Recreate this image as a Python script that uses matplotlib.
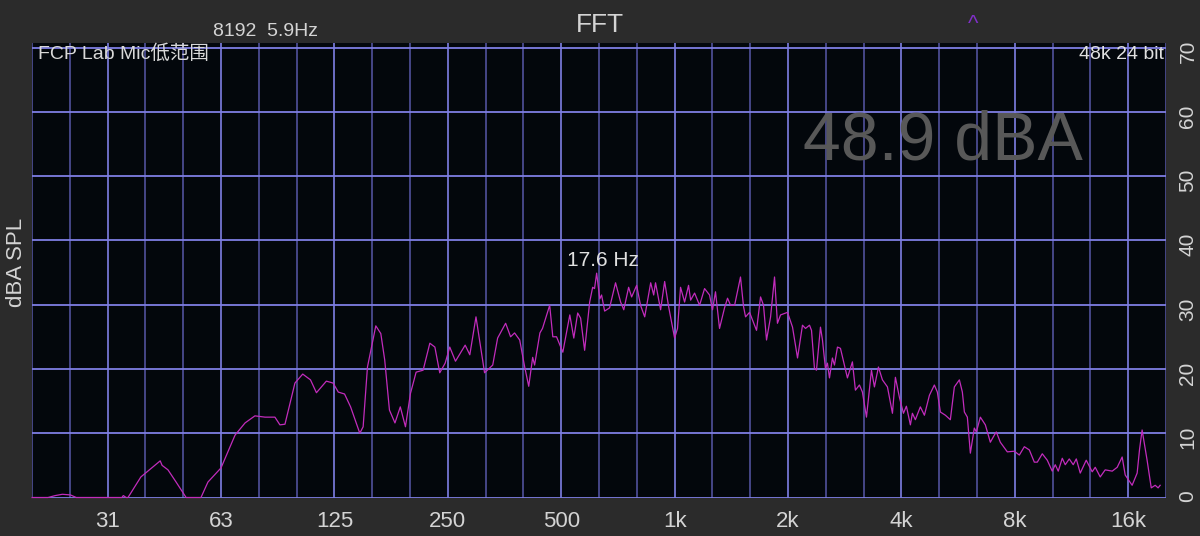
import numpy as np
import matplotlib
matplotlib.use("Agg")
import matplotlib.pyplot as plt
from matplotlib.ticker import FixedLocator, NullFormatter

plt.rcParams['font.family'] = ['Liberation Sans', 'Noto Sans CJK SC', 'DejaVu Sans']

# spectrum (Hz, dBA)
freq = [19.7, 21.7, 22.7, 23.7, 24.9, 25.8, 34.1, 34.4, 35.0, 35.4,
        38.3, 43.1, 43.6, 45.2, 47.5, 50.5, 55.3, 57.7, 62.5, 68.1,
        72.4, 76.9, 81.8, 86.9, 89.6, 92.4, 98.2, 103, 108, 112,
        119, 124, 128, 133, 138, 146, 149, 153, 161, 166,
        170, 175, 181, 187, 193, 199, 206, 215, 224, 231,
        238, 246, 253, 262, 278, 286, 297, 313, 329, 339,
        356, 367, 376, 388, 400, 410, 420, 425, 439, 446,
        466, 475, 486, 505, 527, 540, 553, 563, 577, 595,
        606, 613, 621, 633, 640, 652, 672, 697, 719, 733,
        755, 769, 793, 812, 833, 864, 880, 890, 918, 941,
        964, 1000, 1018, 1037, 1063, 1089, 1103, 1130, 1165, 1201,
        1238, 1261, 1284, 1316, 1357, 1382, 1408, 1443, 1496, 1524,
        1543, 1581, 1610, 1650, 1691, 1722, 1754, 1798, 1842, 1875,
        1911, 1994, 2056, 2120, 2185, 2226, 2281, 2309, 2351, 2380,
        2439, 2469, 2514, 2545, 2577, 2624, 2657, 2706, 2756, 2876,
        2965, 3020, 3095, 3152, 3231, 3331, 3392, 3476, 3562, 3673,
        3787, 3856, 3951, 4050, 4124, 4226, 4278, 4356, 4491, 4604,
        4747, 4893, 4983, 5076, 5233, 5395, 5529, 5701, 5806, 5878,
        5986, 6097, 6246, 6325, 6481, 6682, 6889, 7058, 7146, 7322,
        7642, 7978, 8225, 8480, 8743, 9014, 9180, 9463, 9757, 10057,
        10245, 10433, 10693, 10890, 11160, 11433, 11650, 11935, 12380, 12840,
        13080, 13485, 13900, 14510, 14960, 15420, 15710, 16390, 16900, 17150,
        17420, 17700, 17960, 18420, 18870, 19210, 19450]
level = [0.0, 0.0, 0.3, 0.5, 0.4, 0.0, 0.0, 0.3, 0.0, 0.0,
         3.2, 5.7, 5.0, 4.3, 2.4, 0.0, 0.0, 2.4, 4.6, 9.7,
         11.6, 12.7, 12.5, 12.5, 11.3, 11.4, 17.8, 19.2, 18.3, 16.3,
         18.1, 17.8, 16.4, 16.1, 14.1, 10.0, 11.0, 20.3, 26.7, 25.5,
         21.4, 13.6, 11.6, 14.1, 11.0, 16.2, 19.5, 19.8, 24.0, 23.4,
         19.4, 20.9, 23.4, 21.2, 23.7, 22.2, 28.1, 19.4, 20.6, 24.8,
         27.1, 25.0, 25.6, 24.5, 20.3, 17.3, 21.8, 20.6, 25.6, 26.3,
         29.9, 25.0, 25.0, 22.6, 28.4, 24.8, 28.7, 27.9, 22.9, 30.4,
         32.7, 32.5, 34.9, 30.9, 31.5, 29.0, 29.5, 33.4, 30.4, 29.2,
         32.7, 31.2, 33.0, 29.9, 28.1, 33.4, 31.5, 33.4, 29.2, 33.6,
         29.7, 24.8, 26.3, 32.7, 30.4, 33.0, 30.7, 31.8, 29.9, 32.5,
         31.5, 29.2, 32.0, 26.3, 29.5, 31.0, 29.9, 29.9, 34.3, 29.7,
         28.1, 28.8, 27.6, 26.0, 31.2, 29.9, 24.5, 28.1, 34.3, 27.1,
         28.4, 28.8, 26.5, 21.7, 26.8, 26.3, 26.8, 26.0, 20.1, 19.8,
         26.5, 24.5, 20.1, 20.9, 18.6, 21.7, 20.6, 23.4, 23.2, 18.6,
         21.1, 16.7, 17.5, 16.4, 12.5, 19.8, 17.2, 20.3, 18.3, 17.2,
         13.1, 18.7, 15.6, 13.1, 14.2, 11.3, 13.1, 12.1, 14.1, 12.8,
         15.9, 17.5, 16.4, 13.3, 12.8, 12.1, 17.2, 18.3, 16.4, 13.3,
         12.5, 6.9, 10.8, 10.2, 12.5, 11.3, 8.6, 9.7, 10.2, 8.6,
         7.1, 7.2, 6.6, 7.9, 7.4, 5.5, 5.5, 6.8, 5.8, 4.1,
         5.1, 4.1, 6.1, 5.1, 6.0, 5.1, 6.0, 3.8, 5.8, 4.0,
         4.7, 3.2, 4.3, 4.1, 4.7, 6.3, 3.5, 1.9, 3.8, 7.5,
         10.5, 8.0, 5.8, 1.5, 1.9, 1.5, 1.9]

octave_freqs = [31.25, 62.5, 125, 250, 500, 1000, 2000, 4000, 8000, 16000]
octave_labels = ['31', '63', '125', '250', '500', '1k', '2k', '4k', '8k', '16k']
db_ticks = [0, 10, 20, 30, 40, 50, 60, 70]

third_octaves = [1000 * 2 ** (k / 3) for k in range(-17, 14)]

fig = plt.figure(figsize=(12, 5.36), dpi=100, facecolor='#2b2b2b')
ax = fig.add_axes([32 / 1200, 38.5 / 536, 1134 / 1200, 454.5 / 536])
ax.set_facecolor('#03070c')
ax.set_xscale('log')
ax.set_xlim(third_octaves[0], third_octaves[-1])
ax.set_ylim(0, 70.7)

# grid: bright octave / 10 dB lines, dim third-octave lines
for f in third_octaves:
    major = any(abs(f - o) / o < 0.01 for o in octave_freqs)
    ax.axvline(f, color='#7e7ee4' if major else '#51519c', lw=1.2, zorder=1)
for d in db_ticks:
    ax.axhline(d, color='#7e7ee4', lw=1.3, zorder=1)

ax.plot(freq, level, color='#c22cbc', lw=0.9, zorder=3, clip_on=False)

for s in ax.spines.values():
    s.set_visible(False)

ax.xaxis.set_major_locator(FixedLocator(octave_freqs))
ax.xaxis.set_minor_locator(FixedLocator([]))
ax.xaxis.set_minor_formatter(NullFormatter())
ax.set_xticklabels(octave_labels)
ax.tick_params(axis='x', length=0, pad=10, labelsize=16, labelcolor='#d4d4d4')

ax.yaxis.tick_right()
ax.set_yticks(db_ticks)
ax.tick_params(axis='y', length=0, pad=9, labelsize=15, labelcolor='#d4d4d4',
               labelrotation=90)

fig.text(17 / 1200, 0.51, 'dBA SPL', rotation=90, ha='center', va='center',
         fontsize=16, color='#d4d4d4')
fig.text(0.5, (536 - 32) / 536, 'FFT', ha='center', va='baseline',
         fontsize=19, color='#d4d4d4')
fig.text(213 / 1200, (536 - 36) / 536, '8192  5.9Hz', ha='left', va='baseline',
         fontsize=14, color='#d4d4d4')
fig.text(973 / 1200, (536 - 30) / 536, '^', ha='center', va='baseline',
         fontsize=16, color='#8030c8')
fig.text(38 / 1200, (536 - 59) / 536, 'FCP Lab Mic低范围', ha='left', va='baseline',
         fontsize=14, color='#d8d8d8', zorder=5)
fig.text(1164 / 1200, (536 - 59) / 536, '48k 24 bit', ha='right', va='baseline',
         fontsize=14, color='#e0e0e0', zorder=5)
fig.text(1083 / 1200, (536 - 159) / 536, '48.9 dBA', ha='right', va='baseline',
         fontsize=49, color='#585858', zorder=5)
fig.text(567 / 1200, (536 - 266) / 536, '17.6 Hz', ha='left', va='baseline',
         fontsize=15, color='#e0e0e0', zorder=5)

fig.savefig('out.png', dpi=100, facecolor=fig.get_facecolor())
